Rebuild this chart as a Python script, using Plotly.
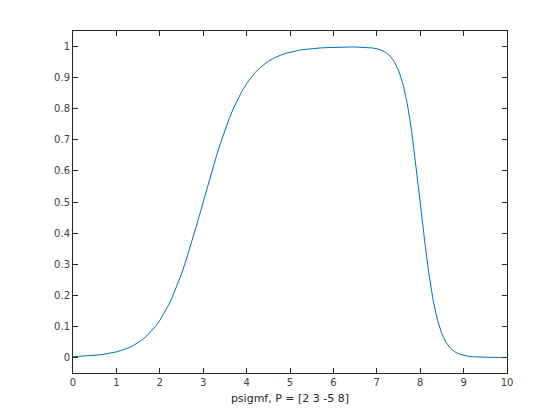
import plotly.graph_objects as go

x_vals = [round(i * 0.1, 1) for i in range(101)]
y_vals = [
    0.002473, 0.003018, 0.003684, 0.004496, 0.005486, 0.006693, 0.008163, 0.009952, 0.012128, 0.014774,
    0.017986, 0.021881, 0.026597, 0.032295, 0.039166, 0.047426, 0.057324, 0.069138, 0.083173, 0.099750,
    0.119203, 0.141851, 0.167982, 0.197816, 0.231475, 0.268941, 0.310026, 0.354344, 0.401312, 0.450166,
    0.500000, 0.549834, 0.598688, 0.645656, 0.689974, 0.731059, 0.768525, 0.802184, 0.832018, 0.858149,
    0.880797, 0.900250, 0.916827, 0.930862, 0.942676, 0.952574, 0.960834, 0.967705, 0.973403, 0.978119,
    0.982014, 0.985226, 0.987872, 0.990048, 0.991837, 0.993303, 0.994508, 0.995494, 0.996299, 0.996955,
    0.997482, 0.997900, 0.998218, 0.998438, 0.998552, 0.998537, 0.998344, 0.997889, 0.997028, 0.995522,
    0.992974, 0.988741, 0.981793, 0.970509, 0.952430, 0.924028, 0.880708, 0.817506, 0.731009, 0.622425,
    0.499977, 0.377527, 0.268933, 0.182421, 0.119201, 0.075857, 0.047425, 0.029312, 0.017986, 0.010987,
    0.006693, 0.004070, 0.002473, 0.001501, 0.000911, 0.000553, 0.000335, 0.000203, 0.000123, 0.000075,
    0.000045,
]
x_ticks = [0, 1, 2, 3, 4, 5, 6, 7, 8, 9, 10]
y_ticks = [0, 0.1, 0.2, 0.3, 0.4, 0.5, 0.6, 0.7, 0.8, 0.9, 1]
x_label = "psigmf, P = [2 3 -5 8]"

fig = go.Figure(go.Scatter(x=x_vals, y=y_vals, mode="lines",
                           line=dict(color="#0072BD", width=1)))

axis_common = dict(showgrid=False, zeroline=False, showline=True, linecolor="#262626",
                   linewidth=1, mirror="ticks", ticks="inside", ticklen=5, tickcolor="#262626",
                   tickfont=dict(family="DejaVu Sans", size=10, color="#404040"))

fig.update_layout(
    width=552, height=412,
    margin=dict(l=65, r=53, t=23, b=47),
    paper_bgcolor="white", plot_bgcolor="white",
    showlegend=False,
    xaxis=dict(range=[0, 10], tickvals=x_ticks, ticktext=[str(v) for v in x_ticks],
               title=dict(text=x_label, standoff=7,
                          font=dict(family="DejaVu Sans", size=11, color="#262626")),
               **axis_common),
    yaxis=dict(range=[-0.05, 1.05], tickvals=y_ticks, ticktext=[f"{v:g}" for v in y_ticks],
               **axis_common),
)

fig.write_html("out.html")
